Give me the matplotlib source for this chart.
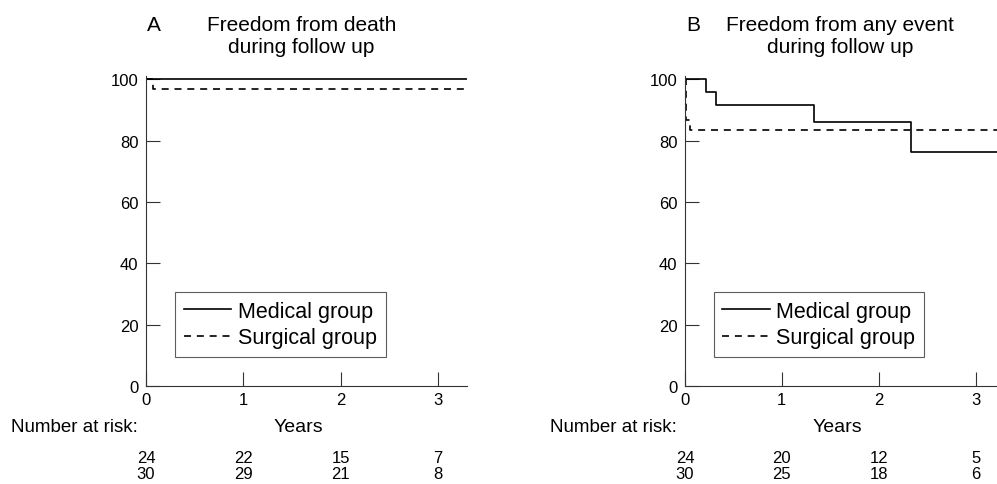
import matplotlib
matplotlib.use("Agg")
import matplotlib.pyplot as plt

plt.rcParams['font.family'] = ['Liberation Sans', 'DejaVu Sans']

# panel A: freedom from death
a_med_t = [0, 3.3]
a_med_s = [100, 100]
a_sur_t = [0, 0.07, 3.3]
a_sur_s = [100, 96.7, 96.7]

# panel B: freedom from any event
b_med_t = [0, 0.22, 0.32, 1.33, 2.33, 3.22]
b_med_s = [100, 95.8, 91.7, 85.9, 76.4, 76.4]
b_sur_t = [0, 0.01, 0.05, 3.22]
b_sur_s = [100, 86.7, 83.3, 83.3]

risk_years = [0, 1, 2, 3]
a_risk_med = [24, 22, 15, 7]
a_risk_sur = [30, 29, 21, 8]
b_risk_med = [24, 20, 12, 5]
b_risk_sur = [30, 25, 18, 6]

fig = plt.figure(figsize=(9.97, 4.85), dpi=100)

AX_H = 310.0  # axes height in pixels, used to place text below/above


def yfrac(px):
    # pixel distance above the x axis (negative = below) -> axes fraction
    return px / AX_H


def panel(rect, xmax, letter, title1, title2, med_t, med_s, sur_t, sur_s, r_med, r_sur):
    ax = fig.add_axes(rect)
    ax.step(med_t, med_s, where='post', color='black', lw=1.2, label='Medical group')
    ax.step(sur_t, sur_s, where='post', color='black', lw=1.2,
            linestyle=(0, (4.2, 3.5)), label='Surgical group')
    ax.set_xlim(0, xmax)
    ax.set_ylim(0, 101)
    ax.set_xticks([0, 1, 2, 3])
    ax.set_yticks([0, 20, 40, 60, 80, 100])
    for s in ['top', 'right']:
        ax.spines[s].set_visible(False)
    for s in ['left', 'bottom']:
        ax.spines[s].set_linewidth(0.8)
        ax.spines[s].set_color('#333333')
    ax.tick_params(direction='in', length=10, width=0.8, color='#333333', labelsize=12)
    ax.tick_params(axis='x', pad=4)
    ax.tick_params(axis='y', pad=5.5)
    leg = ax.legend(loc='lower left', bbox_to_anchor=(0.092, 0.094), borderaxespad=0,
                    fontsize=15.5, frameon=True, fancybox=False, handlelength=2.2,
                    handletextpad=0.3, borderpad=0.4, labelspacing=0.25)
    leg.get_frame().set_edgecolor('#333333')
    leg.get_frame().set_linewidth(0.8)
    tr = ax.get_xaxis_transform()
    # titles
    ax.text(0.01, 1 + yfrac(387 - 31 - 310), letter, transform=tr, fontsize=15,
            ha='left', va='baseline')
    ax.text(1.6, 1 + yfrac(387 - 31 - 310), title1, transform=tr, fontsize=15,
            ha='center', va='baseline')
    ax.text(1.6, 1 + yfrac(387 - 53 - 310), title2, transform=tr, fontsize=15,
            ha='center', va='baseline')
    # x label and number at risk
    ax.text(1.57, yfrac(387 - 432), 'Years', transform=tr, fontsize=14,
            ha='center', va='baseline')
    ax.text(-0.08, yfrac(387 - 432), 'Number at risk:', transform=tr, fontsize=13.5,
            ha='right', va='baseline')
    for x, m, s in zip(risk_years, r_med, r_sur):
        ax.text(x, yfrac(387 - 463), str(m), transform=tr, fontsize=12,
                ha='center', va='baseline')
        ax.text(x, yfrac(387 - 479), str(s), transform=tr, fontsize=12,
                ha='center', va='baseline')
    return ax


panel([0.1464, 0.202, 0.322, 0.639], 3.3, 'A', 'Freedom from death', 'during follow up',
      a_med_t, a_med_s, a_sur_t, a_sur_s, a_risk_med, a_risk_sur)
panel([0.687, 0.202, 0.313, 0.639], 3.22, 'B', 'Freedom from any event', 'during follow up',
      b_med_t, b_med_s, b_sur_t, b_sur_s, b_risk_med, b_risk_sur)

fig.savefig('out.png', dpi=100)
